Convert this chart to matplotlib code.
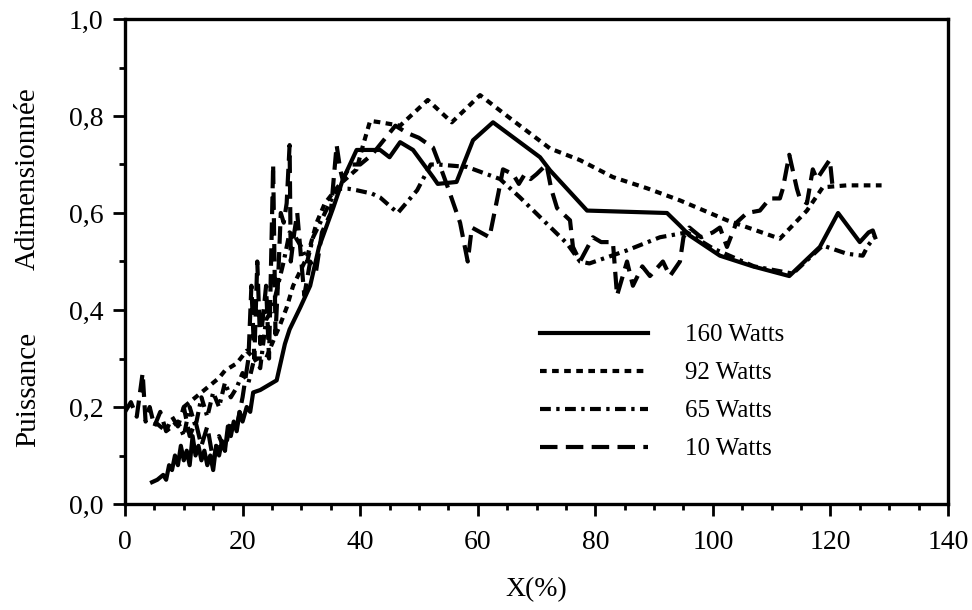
import matplotlib
matplotlib.use("Agg")
import matplotlib.pyplot as plt
from matplotlib.ticker import MultipleLocator, FuncFormatter

# === Données ===
x_160 = [4.6, 5.5, 6.5, 7.0, 7.5, 8.0, 8.5, 9.0, 9.5, 10.0, 10.5, 11.0, 11.5, 12.0, 12.5, 13.0,
         13.5, 14.0, 14.5, 15.0, 15.5, 16.0, 16.5, 17.0, 17.5, 18.0, 18.5, 19.0, 19.5, 20.0,
         20.7, 21.3, 21.8, 23.0, 25.8, 27.2, 28.0, 29.8, 31.5, 33.0, 35.4, 37.0, 39.4, 43.4,
         45.0, 46.8, 49.0, 52.4, 53.2, 56.4, 59.2, 62.6, 70.6, 72.3, 78.6, 92.2, 94.4, 96.0,
         101.2, 106.8, 113.0, 118.2, 121.3, 125.0, 126.5, 127.2, 127.6]
y_160 = [0.045, 0.05, 0.06, 0.05, 0.08, 0.07, 0.10, 0.08, 0.12, 0.09, 0.11, 0.08, 0.14, 0.10,
         0.12, 0.09, 0.11, 0.08, 0.10, 0.07, 0.12, 0.10, 0.13, 0.11, 0.16, 0.14, 0.17, 0.15,
         0.19, 0.17, 0.20, 0.19, 0.23, 0.235, 0.255, 0.33, 0.36, 0.405, 0.45, 0.53, 0.61, 0.667,
         0.73, 0.73, 0.715, 0.746, 0.73, 0.674, 0.66, 0.664, 0.75, 0.787, 0.715, 0.688, 0.605,
         0.60, 0.574, 0.554, 0.512, 0.49, 0.47, 0.53, 0.60, 0.54, 0.56, 0.564, 0.55]

x_92 = [10.0, 12.0, 14.0, 16.0, 17.0, 19.0, 20.7, 22.0, 24.0, 25.0, 26.4, 27.5, 28.6, 31.0,
        32.6, 34.0, 36.6, 39.4, 40.5, 41.7, 43.4, 46.8, 51.5, 55.6, 60.4, 65.0, 72.3, 77.4,
        83.0, 88.8, 94.4, 102.4, 111.4, 116.0, 118.7, 122.8, 128.7]
y_92 = [0.20, 0.22, 0.24, 0.26, 0.275, 0.29, 0.316, 0.30, 0.30, 0.33, 0.37, 0.405, 0.45, 0.51,
        0.58, 0.62, 0.66, 0.69, 0.74, 0.79, 0.787, 0.78, 0.833, 0.787, 0.843, 0.80, 0.733,
        0.709, 0.674, 0.651, 0.626, 0.585, 0.547, 0.605, 0.653, 0.657, 0.657]

x_65 = [5.0, 7.0, 9.0, 10.0, 11.0, 12.0, 13.0, 14.0, 15.0, 16.0, 17.0, 18.0, 19.0, 20.0, 21.0,
        22.0, 23.0, 24.0, 25.0, 26.0, 27.0, 28.0, 29.0, 30.0, 31.0, 32.0, 34.0, 36.0, 38.0,
        39.4, 42.0, 43.4, 46.4, 49.7, 52.0, 53.2, 58.2, 63.8, 67.2, 75.2, 77.4, 79.0, 85.4,
        91.0, 95.6, 100.0, 107.0, 113.6, 118.7, 122.8, 125.5, 126.4, 127.5]
y_65 = [0.17, 0.15, 0.17, 0.14, 0.20, 0.16, 0.22, 0.18, 0.23, 0.20, 0.25, 0.22, 0.24, 0.27,
        0.25, 0.30, 0.28, 0.38, 0.40, 0.45, 0.50, 0.56, 0.55, 0.53, 0.50, 0.55, 0.60, 0.65,
        0.65, 0.647, 0.64, 0.632, 0.60, 0.647, 0.70, 0.70, 0.695, 0.67, 0.632, 0.537, 0.50,
        0.496, 0.523, 0.55, 0.56, 0.527, 0.49, 0.475, 0.533, 0.516, 0.512, 0.533, 0.55]

x_10 = [0.0, 1.0, 2.0, 3.0, 3.5, 4.2, 5.0, 6.0, 7.0, 8.0, 9.0, 10.0, 11.0, 12.0, 13.0, 14.0, 15.0,
        16.0, 17.0, 18.0, 19.0, 20.0, 21.0, 21.5, 22.0, 22.5, 23.0, 24.0, 24.5, 25.2, 25.6,
        26.0, 26.5, 27.0, 27.5, 28.0, 28.2, 28.8, 29.3, 30.0, 30.5, 31.5, 32.5, 33.5, 35.0,
        36.0, 36.6, 37.0, 38.5, 40.0, 42.0, 44.0, 46.0, 48.0, 50.0, 52.4, 53.5, 55.0, 57.0,
        58.3, 59.0, 60.5, 62.0, 63.5, 64.3, 66.0, 67.0, 68.0, 69.0, 70.0, 71.7, 72.5, 73.5,
        75.7, 76.2, 77.4, 79.6, 81.0, 83.0, 83.7, 85.4, 86.4, 88.0, 89.3, 91.5, 92.7, 94.4,
        95.0, 96.0, 98.0, 100.0, 101.2, 102.4, 104.0, 105.8, 108.0, 109.7, 111.4, 111.9,
        113.0, 114.3, 114.8, 116.0, 117.0, 117.7, 119.9, 120.4]
y_10 = [0.19, 0.21, 0.18, 0.27, 0.17, 0.20, 0.16, 0.19, 0.15, 0.18, 0.16, 0.20, 0.14, 0.17, 0.12,
        0.16, 0.09, 0.14, 0.11, 0.17, 0.16, 0.22, 0.30, 0.45, 0.30, 0.50, 0.33, 0.45, 0.30,
        0.70, 0.35, 0.45, 0.60, 0.58, 0.62, 0.74, 0.50, 0.56, 0.60, 0.50, 0.43, 0.50, 0.48,
        0.56, 0.60, 0.74, 0.69, 0.67, 0.70, 0.70, 0.72, 0.75, 0.78, 0.765, 0.755, 0.735, 0.70,
        0.65, 0.58, 0.50, 0.57, 0.56, 0.55, 0.64, 0.69, 0.68, 0.66, 0.68, 0.67, 0.68, 0.70,
        0.65, 0.61, 0.585, 0.53, 0.50, 0.55, 0.54, 0.54, 0.43, 0.50, 0.45, 0.49, 0.47, 0.50,
        0.47, 0.50, 0.55, 0.57, 0.55, 0.56, 0.57, 0.53, 0.58, 0.60, 0.605, 0.63, 0.63, 0.65,
        0.72, 0.65, 0.63, 0.62, 0.69, 0.67, 0.71, 0.65]

labels = ["160 Watts", "92 Watts", "65 Watts", "10 Watts"]

# === Figure ===
plt.rcParams['font.family'] = ['Liberation Serif', 'DejaVu Serif']

fig = plt.figure(figsize=(9.72, 6.10), dpi=100)
W, H = 972, 610
ax = fig.add_axes([125 / W, 1 - 504 / H, (948 - 125) / W, (504 - 19) / H])

lw = 3.0
ax.plot(x_160, y_160, color='black', lw=lw, linestyle='-', label=labels[0])
ax.plot(x_92, y_92, color='black', lw=lw, linestyle=(0, (1.6, 1.3)), label=labels[1])
ax.plot(x_65, y_65, color='black', lw=lw, linestyle=(0, (2.6, 1.3, 0.8, 1.3)), label=labels[2])
ax.plot(x_10, y_10, color='black', lw=lw, linestyle=(0, (4.2, 2.0)), label=labels[3])

ax.set_xlim(0, 140)
ax.set_ylim(0, 1.0)
ax.xaxis.set_major_locator(MultipleLocator(20))
ax.xaxis.set_minor_locator(MultipleLocator(5))
ax.yaxis.set_major_locator(MultipleLocator(0.2))
ax.yaxis.set_minor_locator(MultipleLocator(0.1))
ax.yaxis.set_major_formatter(FuncFormatter(lambda v, p: f"{v:.1f}".replace('.', ',')))

for s in ax.spines.values():
    s.set_linewidth(2.4)
ax.tick_params(which='major', direction='out', length=8.5, width=2.0, labelsize=20, top=False, right=False)
ax.tick_params(which='minor', direction='out', length=4.5, width=2.0, top=False, right=False)
ax.tick_params(axis='x', which='major', pad=10)
ax.tick_params(axis='y', which='major', pad=7)

fig.text(536 / W, 1 - 590 / H, "X(%)", ha='center', va='center', fontsize=20)
fig.text(28 / W, 1 - 389 / H, "Puissance", ha='center', va='center', rotation=90, fontsize=21)
fig.text(28 / W, 1 - 179 / H, "Adimensionnée", ha='center', va='center', rotation=90, fontsize=21)

leg = ax.legend(loc='upper left', bbox_to_anchor=(540 / W, 1 - 324 / H), bbox_transform=fig.transFigure,
                frameon=False, fontsize=18, handlelength=4.3, handletextpad=1.5, labelspacing=0.62,
                borderpad=0, borderaxespad=0)

fig.savefig("out.png", dpi=100)
